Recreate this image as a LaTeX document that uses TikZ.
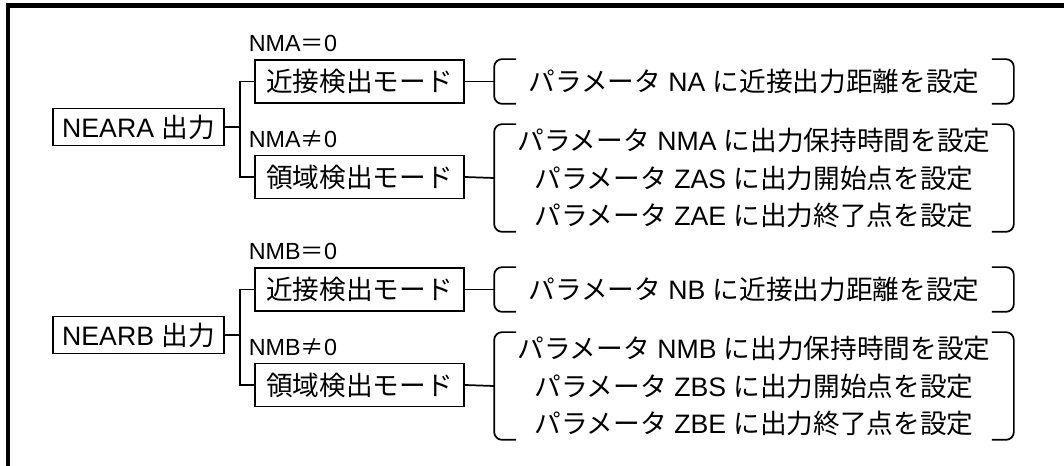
\documentclass[tikz,border=0pt]{standalone}
\usepackage{fontspec}
\setmainfont{Liberation Sans}
\newfontfamily\jpfont{Noto Sans CJK JP}
\newcommand{\jp}[1]{{\jpfont #1}}
\usetikzlibrary{calc}

\begin{document}
\begin{tikzpicture}[x=0.75pt, y=-0.75pt, line width=1.3pt,
		box/.style={draw, inner sep=0pt, font=\fontsize{20pt}{28pt}\selectfont},
		cond/.style={anchor=base west, inner sep=0pt, font=\fontsize{17.5pt}{21pt}\selectfont},
		para/.style={inner sep=0pt, align=center, minimum width=388.5pt, font=\fontsize{20pt}{28pt}\selectfont},
		bracket/.style={rounded corners=6pt}]
		\useasboundingbox (0,0) rectangle (1064,466);
		\draw [line width=3.4pt] (8,466) -- (8,5.5) -- (1064,5.5);
		% NEARA
		\node [box, minimum width=128.25pt, minimum height=27.75pt] (na1) at (138.5,127) {NEARA \jp{出力}};
		\node [box, minimum width=156.75pt, minimum height=32.25pt] (ma1) at (359.5,81.5) {\jp{近接検出モード}};
		\node [box, minimum width=156.75pt, minimum height=32.25pt] (ma2) at (359.5,177) {\jp{領域検出モード}};
		\node [cond] (la1) at (248,52) {NMA\jp{＝}0};
		\node [cond] (la2) at (248,148) {NMA\jp{≠}0};
		\node [para, minimum height=32.25pt] (pa1) at (754,81.5) {\jp{パラメータ} NA \jp{に近接出力距離を設定}};
		\node [para, minimum height=79.5pt] (pa2) at (754,178) {\jp{パラメータ} NMA \jp{に出力保持時間を設定}\\ \jp{パラメータ} ZAS \jp{に出力開始点を設定}\\ \jp{パラメータ} ZAE \jp{に出力終了点を設定}};
		\draw (na1.east) -- ++(15,0) coordinate (ja1);
		\draw (ma1.west) -| (ja1) |- (ma2.west);
		\draw (ma1.east) -- (pa1.west);
		\draw (ma2.east) -- (pa2.west);
		\draw [bracket] ([xshift=16.5pt]pa1.north west) -- (pa1.north west) -- (pa1.south west) -- ([xshift=16.5pt]pa1.south west);
		\draw [bracket] ([xshift=-16.5pt]pa1.north east) -- (pa1.north east) -- (pa1.south east) -- ([xshift=-16.5pt]pa1.south east);
		\draw [bracket] ([xshift=16.5pt]pa2.north west) -- (pa2.north west) -- (pa2.south west) -- ([xshift=16.5pt]pa2.south west);
		\draw [bracket] ([xshift=-16.5pt]pa2.north east) -- (pa2.north east) -- (pa2.south east) -- ([xshift=-16.5pt]pa2.south east);
		% NEARB
		\node [box, minimum width=128.25pt, minimum height=27.75pt] (nb1) at (138.5,335) {NEARB \jp{出力}};
		\node [box, minimum width=156.75pt, minimum height=32.25pt] (mb1) at (359.5,289.5) {\jp{近接検出モード}};
		\node [box, minimum width=156.75pt, minimum height=32.25pt] (mb2) at (359.5,385) {\jp{領域検出モード}};
		\node [cond] (lb1) at (248,260) {NMB\jp{＝}0};
		\node [cond] (lb2) at (248,356) {NMB\jp{≠}0};
		\node [para, minimum height=32.25pt] (pb1) at (754,289.5) {\jp{パラメータ} NB \jp{に近接出力距離を設定}};
		\node [para, minimum height=79.5pt] (pb2) at (754,386) {\jp{パラメータ} NMB \jp{に出力保持時間を設定}\\ \jp{パラメータ} ZBS \jp{に出力開始点を設定}\\ \jp{パラメータ} ZBE \jp{に出力終了点を設定}};
		\draw (nb1.east) -- ++(15,0) coordinate (jb1);
		\draw (mb1.west) -| (jb1) |- (mb2.west);
		\draw (mb1.east) -- (pb1.west);
		\draw (mb2.east) -- (pb2.west);
		\draw [bracket] ([xshift=16.5pt]pb1.north west) -- (pb1.north west) -- (pb1.south west) -- ([xshift=16.5pt]pb1.south west);
		\draw [bracket] ([xshift=-16.5pt]pb1.north east) -- (pb1.north east) -- (pb1.south east) -- ([xshift=-16.5pt]pb1.south east);
		\draw [bracket] ([xshift=16.5pt]pb2.north west) -- (pb2.north west) -- (pb2.south west) -- ([xshift=16.5pt]pb2.south west);
		\draw [bracket] ([xshift=-16.5pt]pb2.north east) -- (pb2.north east) -- (pb2.south east) -- ([xshift=-16.5pt]pb2.south east);
\end{tikzpicture}
\end{document}
